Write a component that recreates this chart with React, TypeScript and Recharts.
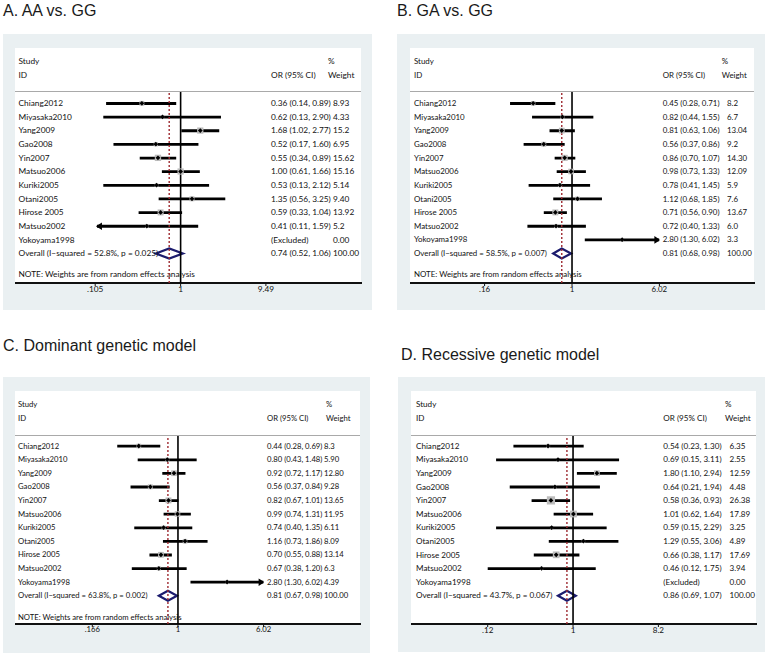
import React from "react";
import {
  ComposedChart,
  Bar,
  Scatter,
  XAxis,
  YAxis,
  ReferenceLine,
} from "recharts";

const studies = [
  "Chiang2012",
  "Miyasaka2010",
  "Yang2009",
  "Gao2008",
  "Yin2007",
  "Matsuo2006",
  "Kuriki2005",
  "Otani2005",
  "Hirose 2005",
  "Matsuo2002",
  "Yokoyama1998",
];

// A. AA vs. GG
const orA = [0.36, 0.62, 1.68, 0.52, 0.55, 1.0, 0.53, 1.35, 0.59, 0.41, null];
const loA = [0.14, 0.13, 1.02, 0.17, 0.34, 0.61, 0.13, 0.56, 0.33, 0.11, null];
const hiA = [0.89, 2.9, 2.77, 1.6, 0.89, 1.66, 2.12, 3.25, 1.04, 1.59, null];
const weightA = ["8.93", "4.33", "15.2", "6.95", "15.62", "15.16", "5.14", "9.40", "13.92", "5.2", "0.00"];
const overallA = [0.74, 0.52, 1.06];
const hetA = ["52.8%", "0.025"];
const ticksA = [0.105, 1, 9.49];
const tickLabelsA = [".105", "1", "9.49"];
const arrowsA = [["Matsuo2002", "left"]];

// B. GA vs. GG
const orB = [0.45, 0.82, 0.81, 0.56, 0.86, 0.98, 0.78, 1.12, 0.71, 0.72, 2.8];
const loB = [0.28, 0.44, 0.63, 0.37, 0.7, 0.73, 0.41, 0.68, 0.56, 0.4, 1.3];
const hiB = [0.71, 1.55, 1.06, 0.86, 1.07, 1.33, 1.45, 1.85, 0.9, 1.33, 6.02];
const weightB = ["8.2", "6.7", "13.04", "9.2", "14.30", "12.09", "5.9", "7.6", "13.67", "6.0", "3.3"];
const overallB = [0.81, 0.68, 0.98];
const hetB = ["58.5%", "0.007"];
const ticksB = [0.166, 1, 6.02];
const tickLabelsB = [".16", "1", "6.02"];
const arrowsB = [["Yokoyama1998", "right"]];

// C. Dominant genetic model
const orC = [0.44, 0.8, 0.92, 0.56, 0.82, 0.99, 0.74, 1.16, 0.7, 0.67, 2.8];
const loC = [0.28, 0.43, 0.72, 0.37, 0.67, 0.74, 0.4, 0.73, 0.55, 0.38, 1.3];
const hiC = [0.69, 1.48, 1.17, 0.84, 1.01, 1.31, 1.35, 1.86, 0.88, 1.2, 6.02];
const weightC = ["8.3", "5.90", "12.80", "9.28", "13.65", "11.95", "6.11", "8.09", "13.14", "6.3", "4.39"];
const overallC = [0.81, 0.67, 0.98];
const hetC = ["63.8%", "0.002"];
const ticksC = [0.166, 1, 6.02];
const tickLabelsC = [".166", "1", "6.02"];
const arrowsC = [["Yokoyama1998", "right"]];

// D. Recessive genetic model
const orD = [0.54, 0.69, 1.8, 0.64, 0.58, 1.01, 0.59, 1.29, 0.66, 0.46, null];
const loD = [0.23, 0.15, 1.1, 0.21, 0.36, 0.62, 0.15, 0.55, 0.38, 0.12, null];
const hiD = [1.3, 3.11, 2.94, 1.94, 0.93, 1.64, 2.29, 3.06, 1.17, 1.75, null];
const weightD = ["6.35", "2.55", "12.59", "4.48", "26.38", "17.89", "3.25", "4.89", "17.69", "3.94", "0.00"];
const overallD = [0.86, 0.69, 1.07];
const hetD = ["43.7%", "0.067"];
const ticksD = [0.122, 1, 8.2];
const tickLabelsD = [".12", "1", "8.2"];
const arrowsD: string[][] = [];

const FONT = "Lato, 'Open Sans', sans-serif";
const INK = "#111";
const BG = "#eaf0f2";

const f2 = (v: number) => v.toFixed(2);

function buildRows(or: any[], lo: any[], hi: any[], w: string[], overall: number[], het: string[], arrows: string[][]) {
  const rows: any[] = studies.map((s, i) => ({
    study: s,
    label: s,
    or: or[i],
    ci: or[i] == null ? null : [lo[i], hi[i]],
    text: or[i] == null ? "(Excluded)" : `${f2(or[i])} (${f2(lo[i])}, ${f2(hi[i])})`,
    weight: w[i],
    size: parseFloat(w[i]),
    arrow: (arrows.find((a) => a[0] === s) || [])[1] || null,
  }));
  rows.push({
    study: "Overall",
    label: `Overall  (I\u2212squared = ${het[0]}, p = ${het[1]})`,
    or: null,
    ci: [overall[1], overall[2]],
    center: overall[0],
    overall: true,
    text: `${f2(overall[0])} (${f2(overall[1])}, ${f2(overall[2])})`,
    weight: "100.00",
    size: 0,
    arrow: null,
  });
  return rows;
}

const CiShape = (props: any) => {
  const { x, y, width, height, payload } = props;
  if (!payload || !payload.ci || !Number.isFinite(x) || !Number.isFinite(width)) return null;
  const cy = y + height / 2;
  if (payload.overall) {
    const [lo, hi] = payload.ci;
    const cx = x + (width * Math.log(payload.center / lo)) / Math.log(hi / lo);
    return (
      <polygon
        points={`${x},${cy} ${cx},${y} ${x + width},${cy} ${cx},${y + height}`}
        fill="none"
        stroke="#1c1c6e"
        strokeWidth={2.2}
      />
    );
  }
  return (
    <g>
      <line x1={x} x2={x + width} y1={cy} y2={cy} stroke="#000" strokeWidth={2.8} />
      {payload.arrow === "left" && (
        <polygon points={`${x - 1},${cy} ${x + 5},${cy - 3.8} ${x + 5},${cy + 3.8}`} fill="#000" />
      )}
      {payload.arrow === "right" && (
        <polygon
          points={`${x + width + 1},${cy} ${x + width - 5},${cy - 3.8} ${x + width - 5},${cy + 3.8}`}
          fill="#000"
        />
      )}
    </g>
  );
};

const BoxShape = (props: any) => {
  const { cx, cy, payload } = props;
  if (!payload || payload.or == null || !Number.isFinite(cx)) return null;
  const s = 1.6 * Math.sqrt(payload.size);
  return <rect x={cx - s / 2} y={cy - s / 2} width={s} height={s} fill="#bcbcbc" />;
};

const DotShape = (props: any) => {
  const { cx, cy, payload } = props;
  if (!payload || payload.or == null || !Number.isFinite(cx)) return null;
  const r = 2.4;
  return <polygon points={`${cx - r},${cy} ${cx},${cy - r} ${cx + r},${cy} ${cx},${cy + r}`} fill="#000" />;
};

type Layout = {
  outer: number[];
  white: number[];
  title: number[];
  plotL: number;
  plotR: number;
  plotTop: number;
  plotBottom: number;
  firstRow: number;
  pitch: number;
  labelX: number;
  orX: number;
  wX: number;
  wHeadX: number;
  fs: number;
};

const Txt = ({ x, y, fs, children }: any) => (
  <div
    style={{
      position: "absolute",
      left: x,
      top: y - 5,
      lineHeight: "10px",
      fontSize: fs,
      fontFamily: FONT,
      color: INK,
      whiteSpace: "nowrap",
    }}
  >
    {children}
  </div>
);

function ForestPanel({ title, rows, ticks, tickLabels, pooled, note, L }: any) {
  const lay = L as Layout;
  const [ox, oy, ow, oh] = lay.outer;
  const [wx, wy, ww, wh] = lay.white;
  const n = rows.length;
  const fs = lay.fs;
  const padTop = lay.firstRow - lay.plotTop - lay.pitch / 2;
  const padBottom = lay.plotBottom - (lay.firstRow + (n - 1) * lay.pitch + lay.pitch / 2);
  const byStudy: Record<string, any> = {};
  rows.forEach((r: any) => (byStudy[r.study] = r));

  return (
    <>
      <div
        style={{
          position: "absolute",
          left: lay.title[0],
          top: lay.title[1],
          fontFamily: "'Liberation Sans', Arial, sans-serif",
          fontSize: 16,
          color: "#1a1a1a",
          whiteSpace: "nowrap",
        }}
      >
        {title}
      </div>
      <div style={{ position: "absolute", left: ox, top: oy, width: ow, height: oh, background: BG }} />
      <div style={{ position: "absolute", left: wx, top: wy, width: ww, height: wh, background: "#fff" }} />
      <div
        style={{
          position: "absolute",
          left: wx,
          top: wy + lay.plotTop - 1,
          width: ww,
          height: 1,
          background: "#a9a9a9",
        }}
      />
      <div
        style={{
          position: "absolute",
          left: wx,
          top: wy + lay.plotBottom - 1,
          width: ww + 1,
          height: 2,
          background: "#111",
        }}
      />
      <div style={{ position: "absolute", left: wx, top: wy }}>
        <Txt x={lay.labelX} y={13} fs={fs}>Study</Txt>
        <Txt x={lay.labelX} y={27} fs={fs}>ID</Txt>
        <Txt x={lay.orX} y={27} fs={fs}>OR (95% CI)</Txt>
        <Txt x={lay.wHeadX} y={13} fs={fs}>%</Txt>
        <Txt x={lay.wHeadX} y={27} fs={fs}>Weight</Txt>
        {note && <Txt x={lay.labelX} y={226} fs={fs}>{note}</Txt>}
        <ComposedChart
          layout="vertical"
          width={ww}
          height={lay.plotBottom + 20}
          data={rows}
          margin={{ top: lay.plotTop, right: 0, bottom: 0, left: 0 }}
          style={{ position: "absolute", left: 0, top: 0, overflow: "visible" }}
        >
          <XAxis
            type="number"
            scale="log"
            domain={[ticks[0], ticks[ticks.length - 1]]}
            ticks={ticks}
            allowDataOverflow
            interval={0}
            axisLine={false}
            tickLine={{ stroke: "#111" }}
            tickSize={3}
            tickMargin={0}
            height={20}
            tick={{ fontSize: fs, fill: INK, fontFamily: FONT }}
            tickFormatter={(v: number) => tickLabels[ticks.indexOf(v)]}
          />
          <YAxis
            yAxisId="l"
            type="category"
            dataKey="study"
            width={lay.plotL}
            padding={{ top: padTop, bottom: padBottom }}
            axisLine={false}
            tickLine={false}
            interval={0}
            tick={(p: any) => (
              <text x={lay.labelX} y={p.y} dy="0.35em" fontSize={fs} fontFamily={FONT} fill={INK}>
                {byStudy[p.payload.value] ? byStudy[p.payload.value].label : ""}
              </text>
            )}
          />
          <YAxis
            yAxisId="r"
            orientation="right"
            type="category"
            dataKey="study"
            width={ww - lay.plotR}
            padding={{ top: padTop, bottom: padBottom }}
            axisLine={false}
            tickLine={false}
            interval={0}
            tick={(p: any) => {
              const r = byStudy[p.payload.value];
              if (!r) return <g />;
              return (
                <g fontSize={fs} fontFamily={FONT} fill={INK}>
                  <text x={lay.orX} y={p.y} dy="0.35em">
                    {r.text}
                  </text>
                  <text x={lay.wX} y={p.y} dy="0.35em">
                    {r.weight}
                  </text>
                </g>
              );
            }}
          />
          <ReferenceLine yAxisId="l" x={pooled} stroke="#9e2a30" strokeWidth={1.4} strokeDasharray="2 2" />
          <ReferenceLine yAxisId="l" x={1} stroke="#000" strokeWidth={1.6} />
          <Scatter yAxisId="l" dataKey="or" shape={BoxShape} isAnimationActive={false} />
          <Bar yAxisId="l" dataKey="ci" barSize={10} shape={CiShape} isAnimationActive={false} />
          <Scatter yAxisId="r" dataKey="or" shape={DotShape} isAnimationActive={false} />
        </ComposedChart>
      </div>
    </>
  );
}

const layoutA: Layout = {
  outer: [3, 34, 369, 276], white: [15, 48, 346, 235], title: [3, 2],
  plotL: 80.2, plotR: 250.9, plotTop: 44, plotBottom: 235, firstRow: 55.3, pitch: 13.64,
  labelX: 3.5, orX: 256, wX: 318, wHeadX: 313, fs: 8.3,
};
const layoutB: Layout = {
  outer: [397, 34, 368, 276], white: [410, 48, 344, 235], title: [397, 2],
  plotL: 74.6, plotR: 249.4, plotTop: 44, plotBottom: 235, firstRow: 55.3, pitch: 13.64,
  labelX: 4, orX: 252.7, wX: 317, wHeadX: 311.7, fs: 7.9,
};
const layoutC: Layout = {
  outer: [3, 377, 367, 276], white: [15, 391, 345, 233], title: [3, 337],
  plotL: 77.3, plotR: 248.6, plotTop: 45, plotBottom: 233, firstRow: 55, pitch: 13.6,
  labelX: 3, orX: 252, wX: 309, wHeadX: 311, fs: 7.7,
};
const layoutD: Layout = {
  outer: [398, 377, 367, 275], white: [411, 391, 345, 233], title: [401, 345.5],
  plotL: 76.7, plotR: 247.4, plotTop: 45, plotBottom: 233, firstRow: 55, pitch: 13.6,
  labelX: 5, orX: 252.3, wX: 318.5, wHeadX: 314, fs: 8.1,
};

const NOTE = "NOTE: Weights are from random effects analysis";

export default function App() {
  const rowsA = buildRows(orA, loA, hiA, weightA, overallA, hetA, arrowsA);
  const rowsB = buildRows(orB, loB, hiB, weightB, overallB, hetB, arrowsB);
  const rowsC = buildRows(orC, loC, hiC, weightC, overallC, hetC, arrowsC);
  const rowsD = buildRows(orD, loD, hiD, weightD, overallD, hetD, arrowsD);
  return (
    <div style={{ position: "relative", width: 770, height: 656, background: "#fff", overflow: "hidden" }}>
      <style>{`body{margin:0} .recharts-surface{overflow:visible}`}</style>
      <ForestPanel title="A. AA vs. GG" rows={rowsA} ticks={ticksA} tickLabels={tickLabelsA} pooled={overallA[0]} note={NOTE} L={layoutA} />
      <ForestPanel title="B. GA vs. GG" rows={rowsB} ticks={ticksB} tickLabels={tickLabelsB} pooled={overallB[0]} note={NOTE} L={layoutB} />
      <ForestPanel title="C. Dominant genetic model" rows={rowsC} ticks={ticksC} tickLabels={tickLabelsC} pooled={overallC[0]} note={NOTE} L={layoutC} />
      <ForestPanel title="D. Recessive genetic model" rows={rowsD} ticks={ticksD} tickLabels={tickLabelsD} pooled={overallD[0]} note={null} L={layoutD} />
    </div>
  );
}
